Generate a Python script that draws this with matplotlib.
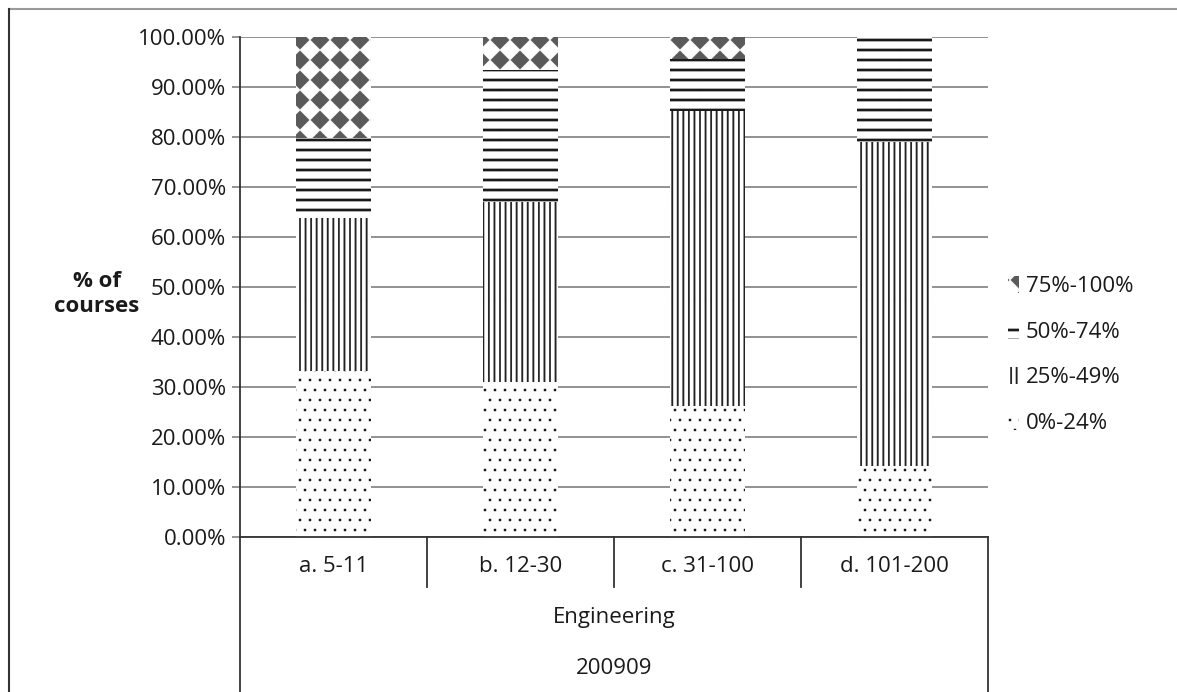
import numpy as np
import matplotlib
matplotlib.use("Agg")
import matplotlib.pyplot as plt
import matplotlib.hatch as mhatch
from matplotlib.path import Path
from matplotlib.lines import Line2D
from matplotlib.ticker import PercentFormatter, MultipleLocator

plt.rcParams["font.family"] = ["Open Sans", "DejaVu Sans"]
plt.rcParams["hatch.linewidth"] = 0.1

groups = ["a. 5-11", "b. 12-30", "c. 31-100", "d. 101-200"]
bands = ["0%-24%", "25%-49%", "50%-74%", "75%-100%"]
share_0_24 = [33.3, 31.0, 26.3, 14.3]
share_25_49 = [30.5, 36.1, 58.9, 64.7]
share_50_74 = [16.1, 26.3, 10.4, 21.0]
share_75_100 = [20.1, 6.6, 4.4, 0.0]
discipline = "Engineering"
term = "200909"


# --- hatch patterns (unit cell = one hatch tile) ---------------------------
def rect(v, c, i, x0, y0, x1, y1):
    v[i:i + 5] = [(x0, y0), (x1, y0), (x1, y1), (x0, y1), (x0, y0)]
    c[i:i + 5] = [Path.MOVETO, Path.LINETO, Path.LINETO, Path.LINETO, Path.CLOSEPOLY]


class Bands(mhatch.HatchPatternBase):
    char, per_char, thick, horizontal = "-", 10, 0.025, True

    def __init__(self, hatch, density):
        self.n = hatch.count(self.char) * self.per_char
        self.num_vertices = (self.n + 1) * 5 if self.n else 0

    def set_vertices_and_codes(self, vertices, codes):
        t = self.thick / 2
        for k, pos in enumerate(np.linspace(0, 1, self.n + 1)):
            if self.horizontal:
                rect(vertices, codes, 5 * k, 0, pos - t, 1, pos + t)
            else:
                rect(vertices, codes, 5 * k, pos - t, 0, pos + t, 1)


class VBands(Bands):
    char, per_char, thick, horizontal = "|", 18, 0.017, False


class Dots(mhatch.HatchPatternBase):
    def __init__(self, hatch, density):
        self.n = hatch.count(".") * 10
        self.pts = []
        if self.n:
            step = 1.0 / self.n
            for r in range(self.n + 1):
                xs = np.arange(0, self.n + 1) * step if r % 2 == 0 else \
                    np.arange(0, self.n) * step + step / 2
                self.pts += [(x, r * step) for x in xs]
        self.num_vertices = len(self.pts) * 5

    def set_vertices_and_codes(self, vertices, codes):
        s = 0.011
        for k, (x, y) in enumerate(self.pts):
            rect(vertices, codes, 5 * k, x - s, y - s, x + s, y + s)


class Diamonds(mhatch.HatchPatternBase):
    def __init__(self, hatch, density):
        self.n = hatch.count("*") * 5
        self.num_vertices = (self.n + 1) ** 2 * 5 if self.n else 0

    def set_vertices_and_codes(self, vertices, codes):
        step = 1.0 / self.n
        h = step * 0.47
        k = 0
        for i in range(self.n + 1):
            for j in range(self.n + 1):
                x, y = i * step, j * step
                vertices[k:k + 5] = [(x, y - h), (x + h, y), (x, y + h), (x - h, y), (x, y - h)]
                codes[k:k + 5] = [Path.MOVETO, Path.LINETO, Path.LINETO, Path.LINETO, Path.CLOSEPOLY]
                k += 5


mhatch._hatch_types = [Bands, VBands, Dots, Diamonds]

# --- figure ----------------------------------------------------------------
fig = plt.figure(figsize=(11.77, 6.92), dpi=100)
ax = fig.add_axes([240 / 1177, 155 / 692, 748 / 1177, 500 / 692])

x = np.arange(len(groups))
series = [share_0_24, share_25_49, share_50_74, share_75_100]
hatches = [".", "|", "-", "*"]
hcolors = ["#1a1a1a", "#222222", "#1a1a1a", "#5a5a5a"]
bottom = np.zeros(len(groups))
handles = []
for vals, lab, hp, hc in zip(series, bands, hatches, hcolors):
    b = ax.bar(x, vals, 0.4, bottom=bottom, facecolor="white", edgecolor=hc,
               linewidth=0, hatch=hp, label=lab, zorder=2)
    handles.append(b)
    bottom += np.array(vals)

ax.set_xlim(-0.5, len(groups) - 0.5)
ax.set_ylim(0, 100)
ax.yaxis.set_major_locator(MultipleLocator(10))
ax.yaxis.set_major_formatter(PercentFormatter(decimals=2))
ax.yaxis.grid(True, color="#7f7f7f", linewidth=1.2)
ax.set_axisbelow(True)
ax.tick_params(axis="y", length=6, width=1.2, color="#7f7f7f", pad=4,
               labelsize=16, labelcolor="#1a1a1a")
ax.set_xticks([])
for s in ["top", "right"]:
    ax.spines[s].set_visible(False)
ax.spines["left"].set_color("#333333")
ax.spines["left"].set_linewidth(1.3)
ax.spines["bottom"].set_color("#333333")
ax.spines["bottom"].set_linewidth(1.3)

# multi-level category axis below the plot
tr = ax.get_xaxis_transform()
for sep in x[:-1] + 0.5:
    ax.plot([sep, sep], [0, -0.1], transform=tr, color="#333333", lw=1.3, clip_on=False)
for edge in [-0.5, len(groups) - 0.5]:
    ax.plot([edge, edge], [0, -0.32], transform=tr, color="#333333", lw=1.3, clip_on=False)
for xi, g in zip(x, groups):
    ax.text(xi, -0.058, g, transform=tr, ha="center", va="center", fontsize=16, color="#1a1a1a")
mid = (len(groups) - 1) / 2
ax.text(mid, -0.162, discipline, transform=tr, ha="center", va="center", fontsize=16, color="#1a1a1a")
ax.text(mid, -0.262, term, transform=tr, ha="center", va="center", fontsize=16, color="#1a1a1a")

fig.text(97 / 1177, 1 - 294 / 692, "% of\ncourses", ha="center", va="center",
         fontsize=16, fontweight="bold", color="#1a1a1a", linespacing=1.25)

leg = fig.legend(handles[::-1], bands[::-1], loc="center left",
                 bbox_to_anchor=(988 / 1177, 1 - 355 / 692), frameon=False,
                 fontsize=16, handlelength=0.5, handleheight=0.8, handletextpad=0.3,
                 labelspacing=1.1)
for t in leg.get_texts():
    t.set_color("#1a1a1a")

# outer chart frame
fig.add_artist(Line2D([9 / 1177, 1], [1 - 9 / 692] * 2, transform=fig.transFigure,
                      color="#9a9a9a", lw=1.5))
fig.add_artist(Line2D([9 / 1177] * 2, [0, 1 - 9 / 692], transform=fig.transFigure,
                      color="#333333", lw=1.5))

fig.savefig("out.png", dpi=100, facecolor="white")
